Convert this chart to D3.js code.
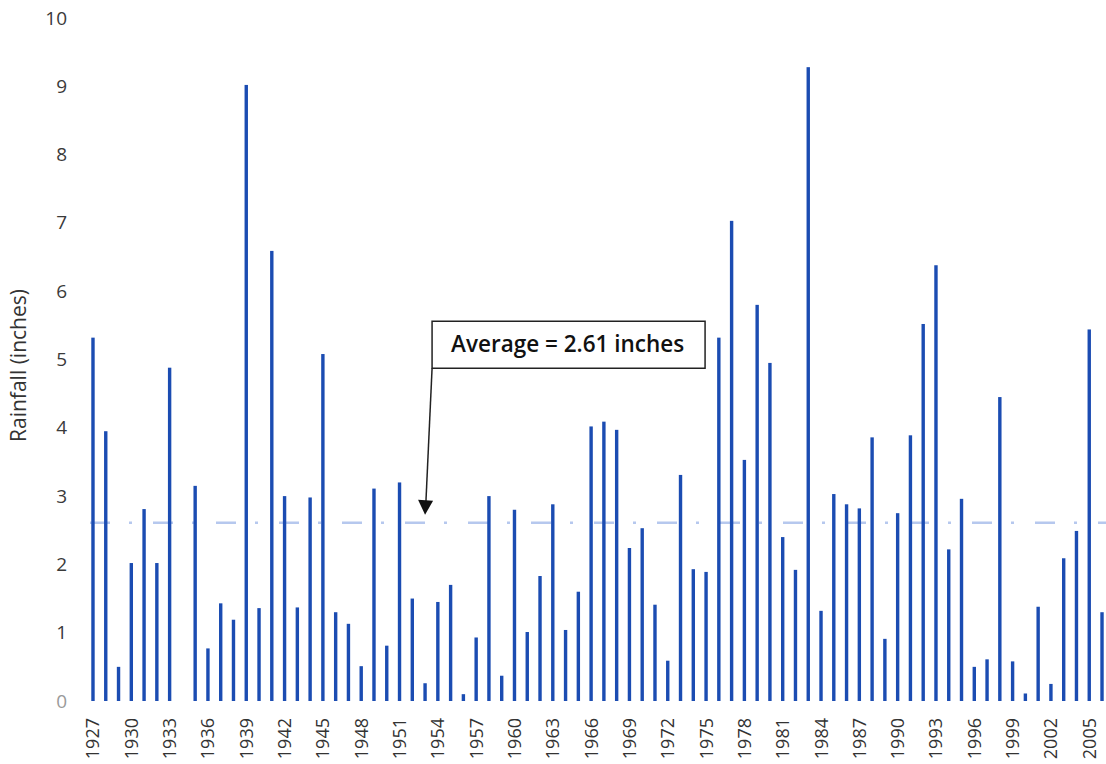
<!DOCTYPE html>
<html>
<head>
<meta charset="utf-8">
<script src="https://cdn.jsdelivr.net/npm/d3@7"></script>
<style>
  html, body { margin: 0; padding: 0; background: #fff; }
  svg { display: block; }
</style>
</head>
<body>
<svg id="chart" width="1106" height="764"></svg>
<script>
// ---- data ----
const years = d3.range(1927, 2007);
const rainfall = [
  5.32, 3.95, 0.50, 2.02, 2.81, 2.02, 4.88, 0.00, 3.15, 0.77,
  1.43, 1.19, 9.02, 1.36, 6.59, 3.00, 1.37, 2.98, 5.08, 1.30,
  1.13, 0.51, 3.11, 0.81, 3.20, 1.50, 0.26, 1.45, 1.70, 0.10,
  0.93, 3.00, 0.37, 2.80, 1.01, 1.83, 2.88, 1.04, 1.60, 4.02,
  4.09, 3.97, 2.24, 2.53, 1.41, 0.59, 3.31, 1.93, 1.89, 5.32,
  7.03, 3.53, 5.80, 4.95, 2.40, 1.92, 9.28, 1.32, 3.03, 2.88,
  2.82, 3.86, 0.91, 2.75, 3.89, 5.52, 6.38, 2.22, 2.96, 0.50,
  0.61, 4.45, 0.58, 0.11, 1.38, 0.25, 2.09, 2.49, 5.44, 1.30
];
const xTickYears = d3.range(1927, 2006, 3);
const yTicks = [0, 1, 2, 3, 4, 5, 6, 7, 8, 9, 10];
const average = 2.61;
const annotationText = "Average = 2.61 inches";
const yTitle = "Rainfall (inches)";

// ---- layout ----
const svg = d3.select("#chart");
const baseY = 701, topY = 18;
const x = d3.scaleBand().domain(years).range([86.6, 1108.4]).padding(0);
const y = d3.scaleLinear().domain([0, 10]).range([baseY, topY]);
const cx = yr => x(yr) + x.bandwidth() / 2;
const font = "'Open Sans', 'Liberation Sans', sans-serif";

// y axis
const yAxis = svg.append("g")
  .attr("transform", "translate(67,0)")
  .call(d3.axisLeft(y).tickValues(yTicks).tickSize(0).tickPadding(0).tickFormat(d3.format("d")));
yAxis.select(".domain").remove();
yAxis.selectAll("text")
  .attr("font-family", font).attr("font-size", 19)
  .attr("fill", d => d === 0 ? "#9a9a9a" : "#3a3a3a");

// y title
svg.append("text")
  .attr("transform", `translate(20,${(y(0) + y(10)) / 2 + 6}) rotate(-90)`)
  .attr("text-anchor", "middle").attr("dominant-baseline", "middle")
  .attr("font-family", font).attr("font-size", 21).attr("fill", "#333")
  .text(yTitle);

// x axis
const xAxis = svg.append("g")
  .attr("transform", `translate(0,${baseY})`)
  .call(d3.axisBottom(x).tickValues(xTickYears).tickSize(0));
xAxis.select(".domain").remove();
xAxis.selectAll("text")
  .attr("font-family", font).attr("font-size", 18).attr("fill", "#333")
  .attr("transform", "rotate(-90)")
  .attr("text-anchor", "end")
  .attr("x", -17).attr("y", 0).attr("dy", "0.36em");

// average line (behind bars)
svg.append("line")
  .attr("x1", 88).attr("x2", 1106)
  .attr("y1", y(average)).attr("y2", y(average))
  .attr("stroke", "#b6c8ee").attr("stroke-width", 2.6)
  .attr("stroke-dasharray", "20,19,3,21")
  .attr("stroke-dashoffset", -2);

// bars
svg.append("g").selectAll("rect")
  .data(years.map((yr, i) => ({ yr, v: rainfall[i] })))
  .join("rect")
  .attr("x", d => cx(d.yr) - 1.7)
  .attr("width", 3.4)
  .attr("y", d => y(d.v))
  .attr("height", d => baseY - y(d.v))
  .attr("fill", "#1b4cb2");

// annotation
const tipX = cx(1953), tipY = y(average) - 8;
const boxX0 = tipX + 7, boxX1 = boxX0 + 273;
const boxY0 = y(5.56), boxY1 = boxY0 + 47;
svg.append("line")
  .attr("x1", boxX0).attr("y1", boxY1)
  .attr("x2", tipX + 0.8).attr("y2", tipY - 12)
  .attr("stroke", "#222").attr("stroke-width", 1.5);
svg.append("path")
  .attr("d", `M${tipX},${tipY} L${tipX - 7},${tipY - 15} L${tipX + 8},${tipY - 14} Z`)
  .attr("fill", "#111");
svg.append("rect")
  .attr("x", boxX0).attr("y", boxY0)
  .attr("width", boxX1 - boxX0).attr("height", boxY1 - boxY0)
  .attr("fill", "#fff").attr("stroke", "#222").attr("stroke-width", 1.5);
svg.append("text")
  .attr("x", boxX0 + 19).attr("y", (boxY0 + boxY1) / 2 + 1)
  .attr("dominant-baseline", "middle")
  .attr("font-family", font).attr("font-size", 22.5).attr("font-weight", 600)
  .attr("fill", "#111")
  .text(annotationText);
</script>
</body>
</html>
